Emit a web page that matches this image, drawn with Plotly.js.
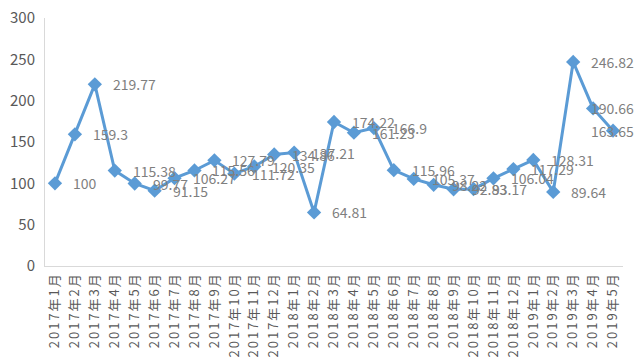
<!DOCTYPE html>
<html>
<head>
<meta charset="utf-8">
<script src="https://cdn.plot.ly/plotly-3.0.1.min.js"></script>
<style>html,body{margin:0;padding:0;background:#fff}#chart{width:641px;height:361px}
#chart .xtick text{letter-spacing:2px}</style>
</head>
<body>
<div id="chart"></div>
<script>
const months = ["2017年1月","2017年2月","2017年3月","2017年4月","2017年5月","2017年6月","2017年7月","2017年8月","2017年9月","2017年10月","2017年11月","2017年12月","2018年1月","2018年2月","2018年3月","2018年4月","2018年5月","2018年6月","2018年7月","2018年8月","2018年9月","2018年10月","2018年11月","2018年12月","2019年1月","2019年2月","2019年3月","2019年4月","2019年5月"];
const values = [100,159.3,219.77,115.38,99.77,91.15,106.27,115.56,127.79,111.72,120.35,134.86,137.21,64.81,174.22,161.23,166.9,115.96,105.37,98.22,92.83,93.17,106.04,117.29,128.31,89.64,246.82,190.66,163.65];
const yTicks = [0,50,100,150,200,250,300];

const n = values.length;
const labelShift = values.map((v,i)=> i === n-1 ? -24 : (i === n-2 ? -4 : 16));
const annotations = values.map((v,i)=>({
  x: months[i], y: v, xref:'x', yref:'y', text: String(v),
  showarrow:false, xanchor:'left', yanchor:'middle', xshift: labelShift[i],
  font:{family:'"Noto Sans CJK SC", "DejaVu Sans", sans-serif', size:14, color:'#7f7f7f'}
}));

const trace = {
  x: months, y: values, type:'scatter', mode:'lines+markers',
  line:{color:'#5b9bd5', width:3},
  marker:{symbol:'diamond', size:11, color:'#5b9bd5'},
  hoverinfo:'x+y'
};

const layout = {
  width:641, height:361,
  margin:{l:45, r:18, t:18, b:95},
  paper_bgcolor:'#fff', plot_bgcolor:'#fff',
  showlegend:false,
  font:{family:'"Noto Sans CJK SC", "DejaVu Sans", sans-serif', color:'#595959'},
  xaxis:{type:'category', range:[-0.5, months.length-0.5], showgrid:false, zeroline:false,
    showline:true, linecolor:'#d9d9d9', linewidth:1, ticks:'', tickangle:-90,
    tickfont:{size:13, color:'#595959'}, fixedrange:true},
  yaxis:{range:[0,300], tickvals:yTicks, ticktext:yTicks.map(String), showgrid:false, zeroline:false,
    showline:true, linecolor:'#d9d9d9', linewidth:1, ticks:'', ticklabelstandoff:6,
    tickfont:{size:15, color:'#595959'}, fixedrange:true},
  annotations: annotations
};

Plotly.newPlot('chart',[trace],layout,{displayModeBar:false, staticPlot:true});
</script>
</body>
</html>
